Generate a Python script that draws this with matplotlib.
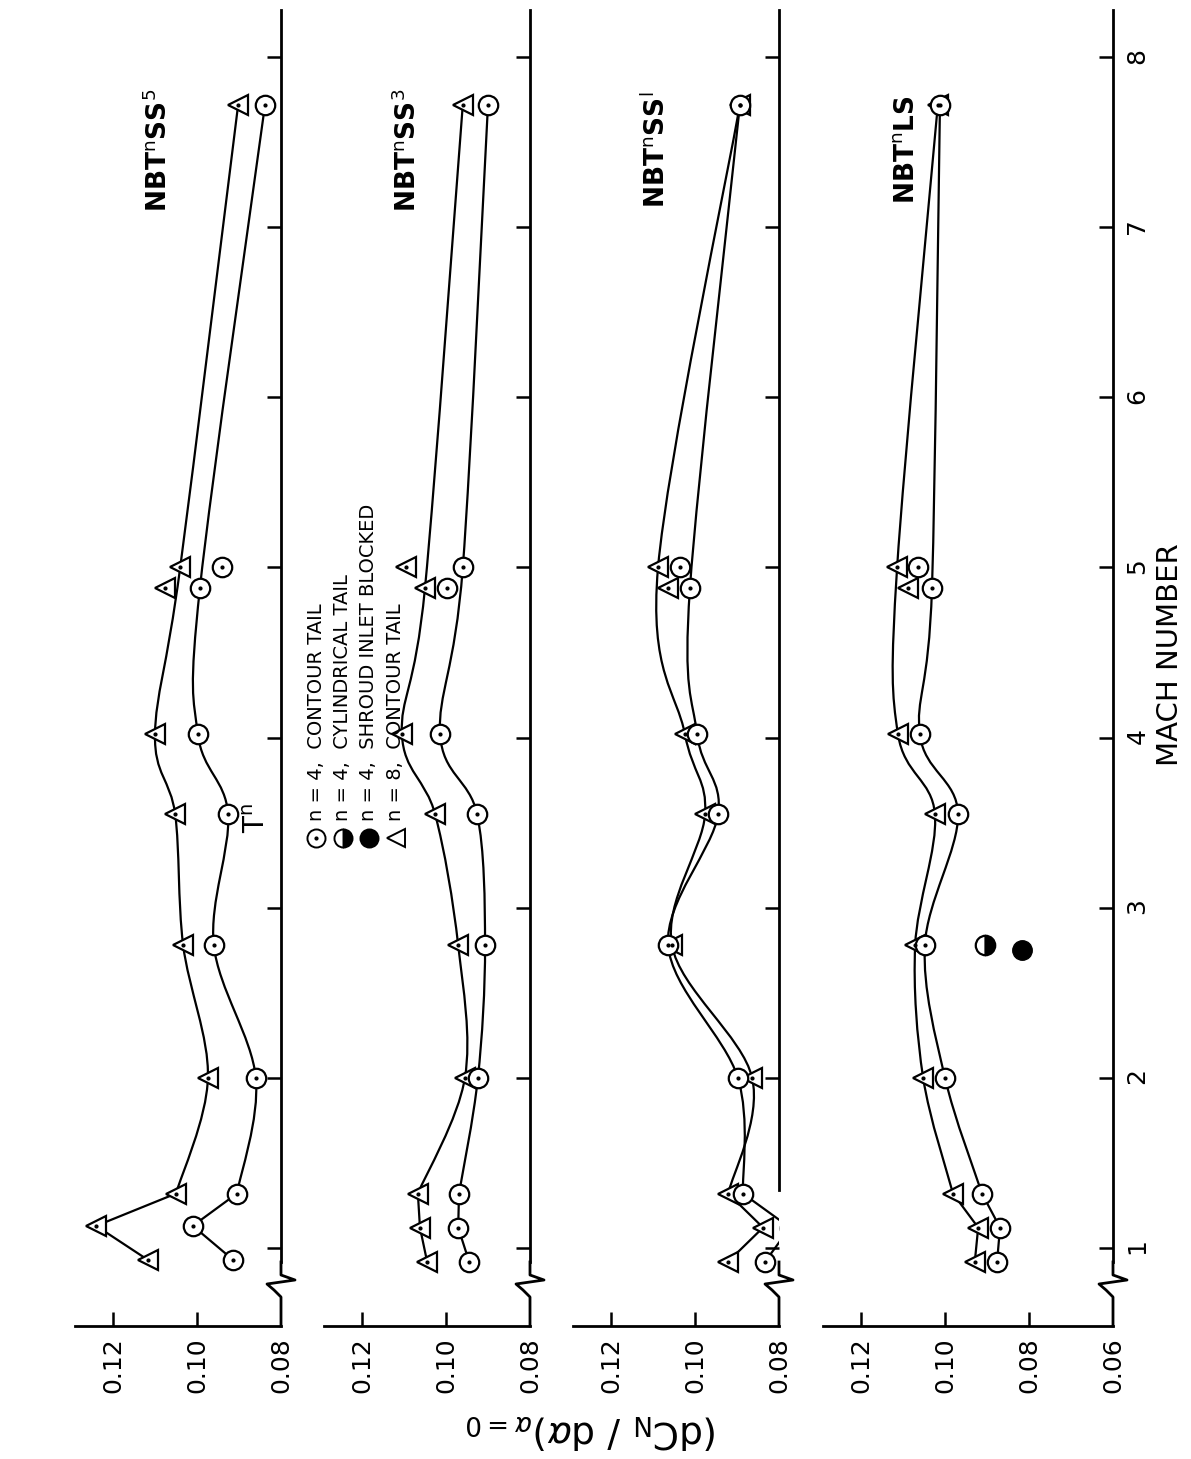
"""Normal-force slope vs Mach number, four configurations (rotated layout)"""
import numpy as np
import matplotlib

matplotlib.use("Agg")
import matplotlib.pyplot as plt
from matplotlib.path import Path
from matplotlib.patches import PathPatch

# ---- data: (Mach, dCN/dalpha) ----
# panel 1: NBT^n SS^5
p1_circ_mach = [0.93, 1.13, 1.32, 2.0, 2.78, 3.55, 4.02, 4.88, 5.0, 7.72]
p1_circ_val = [0.0914, 0.1010, 0.0905, 0.0860, 0.0960, 0.0926, 0.0998, 0.0993, 0.0940, 0.0838]
p1_tri_mach = [0.93, 1.13, 1.32, 2.0, 2.78, 3.55, 4.02, 4.88, 5.0, 7.72]
p1_tri_val = [0.1117, 0.1240, 0.1050, 0.0974, 0.1033, 0.1052, 0.1100, 0.1076, 0.1040, 0.0902]

# panel 2: NBT^n SS^3
p2_circ_mach = [0.92, 1.12, 1.32, 2.0, 2.78, 3.55, 4.02, 4.88, 5.0, 7.72]
p2_circ_val = [0.0945, 0.0971, 0.0969, 0.0924, 0.0907, 0.0926, 0.1014, 0.0998, 0.0960, 0.0900]
p2_tri_mach = [0.92, 1.12, 1.32, 2.0, 2.78, 3.55, 4.02, 4.88, 5.0, 7.72]
p2_tri_val = [0.1045, 0.1062, 0.1067, 0.0955, 0.0971, 0.1026, 0.1105, 0.1050, 0.1095, 0.0960]

# panel 3: NBT^n SS^1
p3_circ_mach = [0.92, 1.12, 1.32, 2.0, 2.78, 3.55, 4.02, 4.88, 5.0, 7.72]
p3_circ_val = [0.0833, 0.0774, 0.0886, 0.0898, 0.1064, 0.0945, 0.0995, 0.1012, 0.1036, 0.0893]
p3_tri_mach = [0.92, 1.12, 1.32, 2.0, 2.78, 3.55, 4.02, 4.88, 5.0, 7.72]
p3_tri_val = [0.0921, 0.0838, 0.0921, 0.0864, 0.1055, 0.0976, 0.1024, 0.1064, 0.1088, 0.0893]

# panel 4: NBT^n LS
p4_circ_mach = [0.92, 1.12, 1.32, 2.0, 2.78, 3.55, 4.02, 4.88, 5.0, 7.72]
p4_circ_val = [0.0876, 0.0869, 0.0912, 0.1000, 0.1048, 0.0969, 0.1060, 0.1031, 0.1064, 0.1012]
p4_tri_mach = [0.92, 1.12, 1.32, 2.0, 2.78, 3.55, 4.02, 4.88, 5.0, 7.72]
p4_tri_val = [0.0929, 0.0921, 0.0981, 0.1052, 0.1071, 0.1024, 0.1112, 0.1088, 0.1114, 0.1017]
p4_cyl = (2.78, 0.0905)      # n=4 cylindrical tail
p4_blocked = (2.75, 0.0817)  # n=4 shroud inlet blocked

# which point each faired curve leaves out (circle, triangle)
skip_pts = [(5.0, 4.88), (4.88, 5.0), (5.0, 4.88), (5.0, 4.88)]

panel_titles = ["NBT$^{\\rm n}$SS$^5$", "NBT$^{\\rm n}$SS$^3$", "NBT$^{\\rm n}$SS$^{\\rm l}$", "NBT$^{\\rm n}$LS"]
legend_labels = ["n = 4,  CONTOUR TAIL", "n = 4,  CYLINDRICAL TAIL",
                 "n = 4,  SHROUD INLET BLOCKED", "n = 8,  CONTOUR TAIL"]
mach_ticks = [1, 2, 3, 4, 5, 6, 7, 8]

W, H = 1191, 1459
PX_PER_VAL = 4200.0
MACH8_Y, PX_PER_MACH = 57.0, 170.14
AXIS_Y, TOP_Y = 1326.0, 10.0
X08 = [281, 530, 779, 1029]
V_LEFT = 0.129

plt.rcParams["font.family"] = ["DejaVu Sans"]
plt.rcParams["mathtext.fontset"] = "dejavusans"

fig = plt.figure(figsize=(W / 100, H / 100), dpi=100)

m_lo = 8 - (AXIS_Y - MACH8_Y) / PX_PER_MACH
m_hi = 8 + (MACH8_Y - TOP_Y) / PX_PER_MACH

LW = 1.6
MS = 14


def m_px(px):
    return 8 - (px - MACH8_Y) / PX_PER_MACH


def smooth_line(ax, xs, ys):
    # catmull-rom -> bezier, only for drawing the faired curve
    pts = np.column_stack([xs, ys])
    verts = [tuple(pts[0])]
    codes = [Path.MOVETO]
    n = len(pts)
    for i in range(n - 1):
        p0 = pts[i - 1] if i > 0 else pts[i]
        p1, p2 = pts[i], pts[i + 1]
        p3 = pts[i + 2] if i + 2 < n else pts[i + 1]
        c1 = p1 + (p2 - p0) / 6.0
        c2 = p2 - (p3 - p1) / 6.0
        verts += [tuple(c1), tuple(c2), tuple(p2)]
        codes += [Path.CURVE4] * 3
    ax.add_patch(PathPatch(Path(verts, codes), fc="none", ec="black", lw=LW, zorder=2))


def series(ax, mach, val, marker, skip_mach):
    mach = np.asarray(mach)
    val = np.asarray(val)
    # low-Mach points joined with straight segments, the rest faired
    ax.plot(val[:3], mach[:3], color="black", lw=LW, zorder=2)
    keep = (mach >= 1.3) & (mach != skip_mach)
    smooth_line(ax, val[keep], mach[keep])
    ax.plot(val, mach, ls="none", marker=marker, ms=MS, mfc="white", mec="black",
            mew=1.6, zorder=3)
    ax.plot(val, mach, ls="none", marker="o", ms=2, color="black", zorder=4)


panels = [
    (p1_circ_mach, p1_circ_val, p1_tri_mach, p1_tri_val),
    (p2_circ_mach, p2_circ_val, p2_tri_mach, p2_tri_val),
    (p3_circ_mach, p3_circ_val, p3_tri_mach, p3_tri_val),
    (p4_circ_mach, p4_circ_val, p4_tri_mach, p4_tri_val),
]

for k, (cm, cv, tm, tv) in enumerate(panels):
    x08 = X08[k]
    v_right = 0.06 if k == 3 else 0.08
    x0 = x08 - (V_LEFT - 0.08) * PX_PER_VAL
    x1 = x08 + (0.08 - v_right) * PX_PER_VAL
    ax = fig.add_axes([x0 / W, 1 - AXIS_Y / H, (x1 - x0) / W, (AXIS_Y - TOP_Y) / H])
    ax.set_xlim(V_LEFT, v_right)
    ax.set_ylim(m_lo, m_hi)
    ax.patch.set_alpha(0)
    for s in ["top", "left", "right"]:
        ax.spines[s].set_visible(False)
    ax.spines["bottom"].set_linewidth(2)

    xt = [0.12, 0.10, 0.08] if k == 3 else [0.12, 0.10]
    xl = ["0.12", "0.10", "0.08", "0.06"] if k == 3 else ["0.12", "0.10", "0.08"]
    ax.set_xticks(xt + [v_right])
    ax.set_xticklabels(xl, rotation=90)
    ax.tick_params(axis="x", direction="in", length=10, width=1.8, pad=8, labelsize=18)
    ax.get_xticklines()[-2].set_visible(False)  # corner tick hidden
    ax.yaxis.tick_right()
    ax.set_yticks(mach_ticks)
    ax.tick_params(axis="y", direction="in", length=10, width=1.8, pad=9, labelsize=18,
                   labelright=(k == 3), labelrotation=90)

    # Mach axis line with the scale break near the corner
    dz = 14 / PX_PER_VAL
    zx = [v_right, v_right, v_right + 0.5 * dz, v_right + dz, v_right - dz, v_right, v_right]
    zy = [m_lo, m_px(1297), m_px(1290), m_px(1284), m_px(1280), m_px(1275), m_px(1262)]
    ax.plot(zx, zy, color="black", lw=2, clip_on=False, solid_joinstyle="round")
    top_start = m_px(1190) if k == 2 else m_px(1262)
    ax.plot([v_right, v_right], [top_start, m_hi], color="black", lw=2, clip_on=False)

    series(ax, tm, tv, "<", skip_pts[k][1])
    series(ax, cm, cv, "o", skip_pts[k][0])

    ax.text(0.08 + 122 / PX_PER_VAL, m_px(150), panel_titles[k], rotation=90,
            ha="center", va="center", fontsize=19, fontweight="bold")

    if k == 3:
        ax.plot(p4_cyl[1], p4_cyl[0], marker="o", ms=MS, mfc="black", mfcalt="white",
                fillstyle="right", mec="black", mew=1.6, zorder=3)
        ax.plot(p4_blocked[1], p4_blocked[0], marker="o", ms=MS, color="black", zorder=3)

# overlay axes in pixel units for the free texts and the legend
lax = fig.add_axes([0, 0, 1, 1])
lax.set_xlim(0, W)
lax.set_ylim(H, 0)
lax.axis("off")

lax.text(257, 818, "T$^{\\rm n}$", rotation=90, ha="center", va="center", fontsize=20)
leg_markers = [dict(marker="o", mfc="white"),
               dict(marker="o", mfc="black", mfcalt="white", fillstyle="right"),
               dict(marker="o", mfc="black"), dict(marker="<", mfc="white")]
for i, (lab, mk) in enumerate(zip(legend_labels, leg_markers)):
    lx = 316 + i * 26.5
    lax.plot(lx, 838, ms=13, mec="black", mew=1.4, color="black", **mk)
    if i == 0:
        lax.plot(lx, 838, marker="o", ms=2, color="black")
    lax.text(lx, 821, lab, rotation=90, ha="center", va="bottom", fontsize=14)

lax.text(1170, 655, "MACH NUMBER", rotation=90, ha="center", va="center", fontsize=21)
lax.text(592, 1432, "(dC$_{\\rm N}$ / d$\\alpha$)$_{\\alpha=0}$", rotation=180,
         ha="center", va="center", fontsize=27)

fig.savefig("out.png", dpi=100)
